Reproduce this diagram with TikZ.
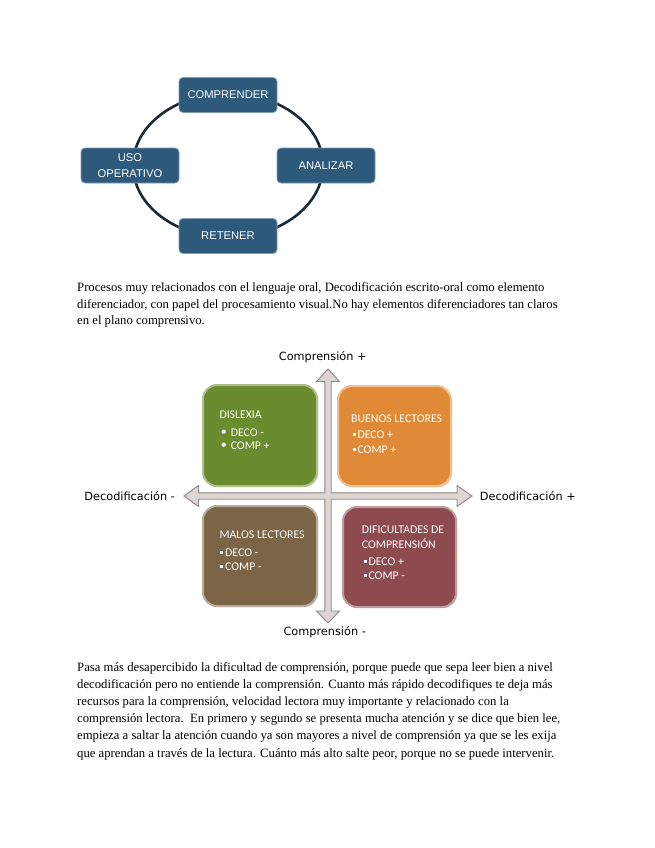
\documentclass[tikz,border=0pt]{standalone}
\usepackage{fontspec}
\setmainfont{Liberation Serif}
\newfontfamily\arialf{Liberation Sans}
\newfontfamily\calf{Carlito}
\newfontfamily\djf{DejaVu Sans}
\usetikzlibrary{shadows}
\definecolor{topfill}{HTML}{2D5A7B}
\definecolor{topedge}{HTML}{7F9DB5}
\definecolor{circ}{HTML}{1B2935}
\definecolor{arrfill}{HTML}{DDD5D3}
\definecolor{arredge}{HTML}{8C8585}
\definecolor{qgreen}{HTML}{6A8C2E}
\definecolor{qorange}{HTML}{E08A37}
\definecolor{qbrown}{HTML}{7C6446}
\definecolor{qred}{HTML}{8E4B4F}
\newcommand{\sqbul}{\raisebox{2.3pt}{\rule{3pt}{3pt}}\hspace{2pt}}
\newcommand{\rdbul}{\raisebox{0.6pt}{\textbullet}\hspace{4pt}}
\begin{document}
\begin{tikzpicture}[x=1pt,y=-1pt,
  topbox/.style={draw=topedge, line width=0.8pt, fill=topfill, rounded corners=4pt,
    minimum width=98pt, minimum height=35pt, inner sep=1pt, text=white, align=center,
    font=\arialf\fontsize{11.2}{15.5}\selectfont},
  qbox/.style={fill=#1, draw=#1!55!white, line width=2pt, rounded corners=14pt,
    drop shadow={shadow xshift=1.2pt, shadow yshift=-1.2pt, opacity=0.35}},
  qtext/.style={anchor=base west, inner sep=0pt, text=white,
    font=\calf\fontsize{11.8}{13}\selectfont},
  axlab/.style={inner sep=0pt, font=\djf\fontsize{11.3}{13}\selectfont},
  para/.style={anchor=base west, inner sep=0pt, font=\fontsize{12.7}{14}\selectfont}]
\path[use as bounding box, fill=white] (0,0) rectangle (655,848);

% ---- cycle diagram ----
\draw[line width=2.6pt, circ] (228,165.5) ellipse [x radius=95, y radius=72];
\node[topbox] (comp) at (228,95) {COMPRENDER};
\node[topbox] (anal) at (326,165.5) {ANALIZAR};
\node[topbox] (ret) at (228,236) {RETENER};
\node[topbox] (uso) at (130,165.5) {USO\\OPERATIVO};

% ---- paragraph 1 ----
\node[para] (p1a) at (77,291.5) {Procesos muy relacionados con el lenguaje oral, Decodificación escrito-oral como elemento};
\node[para] (p1b) at (77,308) {diferenciador, con papel del procesamiento visual.No hay elementos diferenciadores tan claros};
\node[para] (p1c) at (77,324.5) {en el plano comprensivo.};

% ---- quadrant diagram ----
\draw[fill=arrfill, draw=arredge, line width=0.9pt, line join=miter]
  (328,369) -- (339.5,381.5) -- (331.2,381.5) -- (331.2,492.8) -- (457,492.8) -- (457,485.5)
  -- (472,496) -- (457,506.5) -- (457,499.2) -- (331.2,499.2) -- (331.2,611) -- (339.5,611)
  -- (328,623) -- (316.5,611) -- (324.8,611) -- (324.8,499.2) -- (198.5,499.2) -- (198.5,506.5)
  -- (184,496) -- (198.5,485.5) -- (198.5,492.8) -- (324.8,492.8) -- (324.8,381.5) -- (316.5,381.5)
  -- cycle;

\node[axlab] (cplus) at (322.7,356.7) {Comprensión +};
\node[axlab] (cminus) at (324.7,631.7) {Comprensión -};
\node[axlab] (dminus) at (129.7,495.7) {Decodificación -};
\node[axlab] (dplus) at (527.8,495.7) {Decodificación +};

\path[qbox=qgreen] (203,385) rectangle (317,486);
\path[qbox=qorange] (338,386) rectangle (451,486);
\path[qbox=qbrown] (203,506) rectangle (317,606);
\path[qbox=qred] (343,507) rectangle (456,607);

\node[qtext] (g1) at (219.3,418.7) {DISLEXIA};
\node[qtext] (g2) at (220.7,436) {\rdbul DECO -};
\node[qtext] (g3) at (220.7,449.4) {\rdbul COMP +};

\node[qtext] (o1) at (351,422.7) {BUENOS LECTORES};
\node[qtext] (o2) at (352.3,438) {\sqbul DECO +};
\node[qtext] (o3) at (352.3,453.7) {\sqbul COMP +};

\node[qtext] (b1) at (219.3,538) {MALOS LECTORES};
\node[qtext] (b2) at (220,556) {\sqbul DECO -};
\node[qtext] (b3) at (220,570.4) {\sqbul COMP -};

\node[qtext] (r1) at (361.7,533.7) {DIFICULTADES DE};
\node[qtext] (r2) at (361.7,548) {COMPRENSIÓN};
\node[qtext] (r3) at (363.3,565.4) {\sqbul DECO +};
\node[qtext] (r4) at (363.3,579.7) {\sqbul COMP -};

% ---- paragraph 2 ----
\node[para] (p2a) at (77,671) {Pasa más desapercibido la dificultad de comprensión, porque puede que sepa leer bien a nivel};
\node[para] (p2b) at (77,688.2) {decodificación pero no entiende la comprensión. Cuanto más rápido decodifiques te deja más};
\node[para] (p2c) at (77,705.4) {recursos para la comprensión, velocidad lectora muy importante y relacionado con la};
\node[para] (p2d) at (77,722.6) {comprensión lectora.\ \ En primero y segundo se presenta mucha atención y se dice que bien lee,};
\node[para] (p2e) at (77,739.8) {empieza a saltar la atención cuando ya son mayores a nivel de comprensión ya que se les exija};
\node[para] (p2f) at (77,757) {que aprendan a través de la lectura. Cuánto más alto salte peor, porque no se puede intervenir.};
\end{tikzpicture}
\end{document}
